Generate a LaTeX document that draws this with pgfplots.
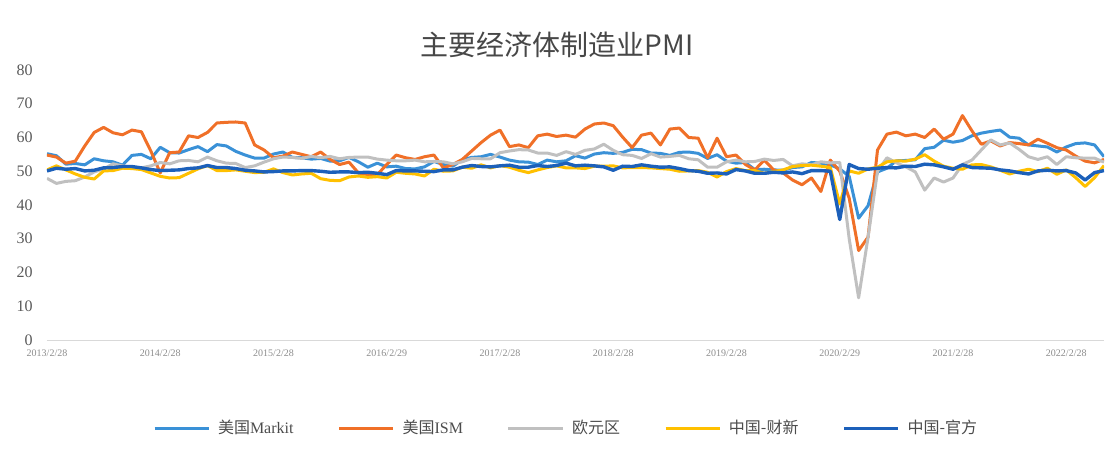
\documentclass[border=0pt]{standalone}
\usepackage{pgfplots}
\pgfplotsset{compat=1.18}
\usepackage{pgfplotstable}
\usepackage{fontspec}
\setmainfont{Liberation Serif}
\newfontfamily\cjk{Noto Sans CJK SC}
\definecolor{cMarkit}{RGB}{58,145,215}
\definecolor{cISM}{RGB}{240,112,40}
\definecolor{cEuro}{RGB}{192,192,192}
\definecolor{cCaixin}{RGB}{255,192,0}
\definecolor{cOfficial}{RGB}{28,96,186}
\pgfplotstableread{
i markit ism euro caixin official
0 55.2 54.8 47.9 50.4 50.1
1 54.6 54.2 46.4 51.6 50.9
2 52.1 52.4 47.0 50.4 50.6
3 52.3 53.0 47.2 49.2 50.8
4 51.9 57.5 48.3 48.2 50.1
5 53.7 61.5 49.8 47.7 50.3
6 53.1 63.0 50.7 50.1 51.0
7 52.8 61.4 52.2 50.2 51.1
8 51.8 60.8 51.6 50.9 51.4
9 54.7 62.2 51.2 50.8 51.4
10 55.0 61.7 51.0 50.5 51.0
11 53.7 56.0 51.6 49.5 50.5
12 57.1 49.5 52.6 48.5 50.2
13 55.5 55.5 52.2 48.0 50.3
14 55.4 55.7 53.1 48.1 50.4
15 56.4 60.5 53.2 49.4 50.8
16 57.3 60.0 52.8 50.7 51.0
17 55.8 61.5 54.2 51.7 51.7
18 57.9 64.3 53.1 50.2 51.1
19 57.5 64.5 52.4 50.2 51.1
20 55.9 64.6 52.3 50.4 50.8
21 54.8 64.3 51.1 50.0 50.3
22 53.9 57.8 51.6 49.6 50.1
23 53.9 56.3 52.7 49.7 49.8
24 55.1 54.0 53.7 50.7 49.9
25 55.7 54.5 54.2 49.6 50.1
26 54.1 55.7 54.1 48.9 50.1
27 54.0 55.0 53.8 49.2 50.2
28 53.6 54.3 54.4 49.4 50.2
29 53.8 55.7 54.0 47.8 50.0
30 53.0 53.5 54.4 47.3 49.7
31 53.1 52.0 53.7 47.2 49.8
32 54.1 52.7 54.1 48.3 49.8
33 52.8 49.5 54.2 48.6 49.6
34 51.2 49.0 54.2 48.2 49.7
35 52.4 49.0 53.6 48.4 49.4
36 51.3 52.0 53.3 48.0 49.0
37 51.5 54.8 53.1 49.7 50.2
38 50.8 54.0 53.1 49.4 50.1
39 50.7 53.5 53.3 49.2 50.1
40 51.3 54.3 52.8 48.6 50.0
41 52.9 54.8 52.9 50.6 49.9
42 52.0 51.0 52.8 50.0 50.4
43 51.5 52.0 52.2 50.1 50.4
44 53.4 53.5 52.8 51.2 51.2
45 54.1 56.0 53.8 50.9 51.7
46 54.3 58.5 53.7 51.9 51.4
47 55.0 60.7 53.7 51.0 51.3
48 54.2 62.2 55.5 51.7 51.6
49 53.3 57.3 56.0 51.2 51.8
50 52.8 57.8 56.4 50.3 51.2
51 52.7 57.0 56.3 49.6 51.2
52 52.0 60.5 55.4 50.4 51.7
53 53.3 61.0 55.4 51.1 51.4
54 52.8 60.3 54.7 51.6 51.7
55 53.1 60.7 55.8 51.0 52.4
56 54.6 60.1 55.0 51.0 51.6
57 53.9 62.5 56.2 50.8 51.8
58 55.1 64.0 56.6 51.5 51.6
59 55.5 64.3 58.0 51.5 51.3
60 55.3 63.5 56.2 51.6 50.3
61 55.6 60.1 54.9 51.0 51.5
62 56.5 57.0 54.7 51.1 51.4
63 56.4 60.7 53.8 51.1 51.9
64 55.4 61.3 55.2 51.0 51.5
65 55.3 57.8 54.2 50.8 51.2
66 54.7 62.5 54.4 50.6 51.3
67 55.6 62.8 54.7 50.0 50.8
68 55.7 60.0 53.7 50.1 50.2
69 55.3 59.8 53.4 50.2 50.0
70 53.8 54.0 51.2 49.7 49.4
71 54.9 59.8 51.2 48.3 49.5
72 53.0 54.3 52.8 49.9 49.2
73 52.4 54.8 53.3 50.8 50.5
74 52.6 52.0 52.8 50.2 50.1
75 50.5 50.4 52.9 50.2 49.4
76 50.6 53.3 53.6 49.4 49.4
77 50.4 50.4 53.2 49.9 49.7
78 50.3 49.5 53.5 50.4 49.5
79 51.1 47.4 51.6 51.4 49.8
80 51.3 46.0 52.2 51.7 49.3
81 52.6 48.0 51.9 51.8 50.2
82 52.4 44.0 52.8 51.5 50.2
83 51.9 53.3 52.5 51.1 50.0
84 50.7 50.0 52.6 40.3 35.7
85 48.5 42.0 30.0 50.1 52.0
86 36.1 26.5 12.5 49.4 50.8
87 39.8 30.5 30.5 50.7 50.6
88 49.8 56.3 50.0 51.2 50.9
89 50.9 61.0 54.0 52.8 51.1
90 53.1 61.6 52.5 53.1 51.0
91 53.2 60.5 51.3 53.0 51.5
92 53.4 61.0 49.8 53.6 51.4
93 56.7 60.0 44.4 54.9 52.1
94 57.1 62.5 48.0 53.0 51.9
95 59.2 59.5 46.8 51.5 51.3
96 58.6 61.0 48.0 50.9 50.6
97 59.1 66.5 52.0 50.6 51.9
98 60.5 62.0 53.3 51.9 51.1
99 61.3 58.0 56.3 52.0 51.0
100 61.8 59.0 59.3 51.3 50.9
101 62.2 57.5 57.8 50.3 50.4
102 60.1 58.5 58.4 49.2 50.1
103 59.8 58.2 56.5 50.0 49.6
104 57.8 57.8 54.3 50.6 49.2
105 57.5 59.5 53.5 49.9 50.1
106 57.2 58.3 54.3 50.9 50.3
107 55.7 57.0 52.0 49.1 50.1
108 57.2 56.3 54.3 50.4 50.2
109 58.2 54.5 54.0 48.1 49.5
110 58.4 53.0 53.9 45.5 47.4
111 57.8 52.5 53.9 48.1 49.6
112 54.3 53.5 52.7 51.7 50.2
}\pmidata

\begin{document}
\begin{tikzpicture}
\path[use as bounding box] (-23.5pt,-58pt) rectangle (530.5pt,170pt);
\begin{axis}[
  at={(0,0)}, anchor=south west,
  scale only axis, width=528.5pt, height=135pt,
  xmin=0, xmax=112, ymin=0, ymax=80,
  clip mode=individual,
  ytick={0,10,...,80},
  xtick={0,12,...,108},
  xticklabels={2013/2/28,2014/2/28,2015/2/28,2016/2/29,2017/2/28,2018/2/28,2019/2/28,2020/2/29,2021/2/28,2022/2/28},
  axis line style={draw=none},
  tick style={draw=none},
  /pgf/number format/assume math mode=true,
  yticklabel style={font=\fontsize{8}{8}\selectfont, text=black!65, anchor=east, inner sep=0pt, xshift=-7pt},
  xticklabel style={font=\fontsize{5}{5}\selectfont, text=black!45, anchor=center, inner sep=0pt, yshift=-6.5pt},
  legend columns=5,
  legend style={at={(0.492,-0.326)}, anchor=center, draw=none, fill=none,
    font=\fontsize{8}{9}\selectfont, text=black!70, inner sep=0pt,
    /tikz/every odd column/.append style={column sep=2pt},
    /tikz/every even column/.append style={column sep=20pt}},
  legend image code/.code={\draw[#1, line width=1.5pt] (0pt,0pt) -- (27pt,0pt);},
  every axis plot/.append style={line width=1.5pt, line join=round, no markers},
]
\draw[black!15, line width=0.5pt] (rel axis cs:0,0) -- (rel axis cs:1,0);
\addplot[cMarkit] table[x=i, y=markit] {\pmidata};
\addlegendentry{{\cjk 美国}Markit}
\addplot[cISM] table[x=i, y=ism] {\pmidata};
\addlegendentry{{\cjk 美国}ISM}
\addplot[cEuro] table[x=i, y=euro] {\pmidata};
\addlegendentry{{\cjk 欧元区}}
\addplot[cCaixin] table[x=i, y=caixin] {\pmidata};
\addlegendentry{{\cjk 中国-财新}}
\addplot[cOfficial, line width=1.7pt] table[x=i, y=official] {\pmidata};
\addlegendentry{{\cjk 中国-官方}}
\node[font=\cjk\fontsize{14}{14}\selectfont, text=black!72] at (rel axis cs:0.4825,1.0926) {主要经济体制造业PMI};
\end{axis}
\end{tikzpicture}
\end{document}
